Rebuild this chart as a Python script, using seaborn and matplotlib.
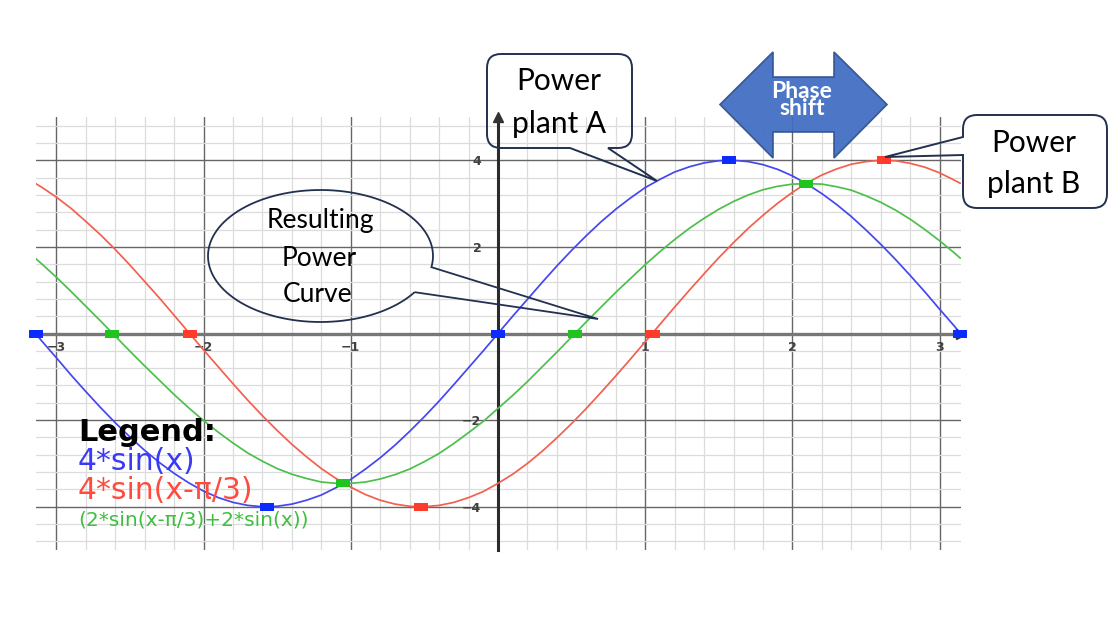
import numpy as np
import matplotlib
matplotlib.use("Agg")
import matplotlib.pyplot as plt
from matplotlib.path import Path
from matplotlib.patches import PathPatch, Polygon
from matplotlib.transforms import Affine2D
from matplotlib.ticker import MultipleLocator, FixedLocator
import seaborn as sns

# values (x in radians, step 0.1)
x_vals = [-3.14, -3.1, -3.0, -2.9, -2.8, -2.7, -2.6, -2.5, -2.4, -2.3, -2.2,
          -2.1, -2.0, -1.9, -1.8, -1.7, -1.6, -1.5, -1.4, -1.3, -1.2, -1.1,
          -1.0, -0.9, -0.8, -0.7, -0.6, -0.5, -0.4, -0.3, -0.2, -0.1, 0.0,
          0.1, 0.2, 0.3, 0.4, 0.5, 0.6, 0.7, 0.8, 0.9, 1.0, 1.1, 1.2,
          1.3, 1.4, 1.5, 1.6, 1.7, 1.8, 1.9, 2.0, 2.1, 2.2, 2.3, 2.4,
          2.5, 2.6, 2.7, 2.8, 2.9, 3.0, 3.1, 3.14]
plant_a = [0.0, -0.17, -0.56, -0.96, -1.34, -1.71, -2.06, -2.39, -2.70, -2.98, -3.23,
           -3.45, -3.64, -3.79, -3.90, -3.97, -4.00, -3.99, -3.94, -3.85, -3.73, -3.56,
           -3.37, -3.13, -2.87, -2.58, -2.26, -1.92, -1.56, -1.18, -0.79, -0.40, 0.0,
           0.40, 0.79, 1.18, 1.56, 1.92, 2.26, 2.58, 2.87, 3.13, 3.37, 3.56, 3.73,
           3.85, 3.94, 3.99, 4.00, 3.97, 3.90, 3.79, 3.64, 3.45, 3.23, 2.98, 2.70,
           2.39, 2.06, 1.71, 1.34, 0.96, 0.56, 0.17, 0.0]
plant_b = [3.46, 3.38, 3.15, 2.89, 2.59, 2.28, 1.94, 1.58, 1.20, 0.82, 0.42,
           0.02, -0.38, -0.77, -1.16, -1.54, -1.90, -2.24, -2.56, -2.85, -3.12, -3.35,
           -3.55, -3.72, -3.85, -3.94, -3.99, -4.00, -3.97, -3.90, -3.79, -3.65, -3.46,
           -3.25, -3.00, -2.72, -2.41, -2.08, -1.73, -1.36, -0.98, -0.59, -0.19, 0.21, 0.61,
           1.00, 1.38, 1.75, 2.10, 2.43, 2.73, 3.01, 3.26, 3.48, 3.66, 3.80, 3.91,
           3.97, 4.00, 3.99, 3.93, 3.84, 3.71, 3.54, 3.47]
resulting = [1.73, 1.61, 1.30, 0.97, 0.63, 0.29, -0.06, -0.41, -0.75, -1.08, -1.41,
             -1.72, -2.01, -2.28, -2.53, -2.76, -2.95, -3.12, -3.25, -3.35, -3.43, -3.46,
             -3.46, -3.43, -3.36, -3.26, -3.13, -2.96, -2.77, -2.54, -2.29, -2.03, -1.73,
             -1.43, -1.11, -0.77, -0.43, -0.08, 0.27, 0.61, 0.95, 1.27, 1.59, 1.89, 2.17,
             2.43, 2.66, 2.87, 3.05, 3.20, 3.32, 3.40, 3.45, 3.46, 3.45, 3.39, 3.31,
             3.18, 3.03, 2.85, 2.64, 2.40, 2.14, 1.86, 1.74]

# highlighted points
a_pts_x = [-3.14, -1.57, 0.0, 1.57, 3.14]
a_pts_y = [0.0, -4.0, 0.0, 4.0, 0.0]
b_pts_x = [-2.09, -0.52, 1.05, 2.62]
b_pts_y = [0.0, -4.0, 0.0, 4.0]
r_pts_x = [-2.62, -1.05, 0.52, 2.09]
r_pts_y = [0.0, -3.46, 0.0, 3.46]

x_ticks = [-3, -2, -1, 1, 2, 3]
y_ticks = [-4, -2, 2, 4]
legend_lines = ["4*sin(x)", "4*sin(x-π/3)", "(2*sin(x-π/3)+2*sin(x))"]

blue, red, green = "#4646f0", "#f2604f", "#4cbf4c"
navy = "#22314f"

sns.set_style("white")
plt.rcParams["font.family"] = ["DejaVu Sans"]

W, H, DPI = 1118, 620, 100
fig = plt.figure(figsize=(W / DPI, H / DPI), dpi=DPI)
ax = fig.add_axes([35.5 / W, 70 / H, 925 / W, 433 / H])
# pixel coords, origin top-left
pix = Affine2D().scale(1 / DPI, -1 / DPI).translate(0, H / DPI) + fig.dpi_scale_trans

ax.set_xlim(-3.1416, 3.1416)
ax.set_ylim(-5, 5)
ax.set_axisbelow(True)
ax.xaxis.set_major_locator(FixedLocator(x_ticks))
ax.yaxis.set_major_locator(FixedLocator(y_ticks))
ax.xaxis.set_minor_locator(MultipleLocator(0.2))
ax.yaxis.set_minor_locator(MultipleLocator(0.4))
ax.grid(which="minor", color="#dcdcdc", lw=0.9)
ax.grid(which="major", color="#666666", lw=1.0)

for s in ["top", "right"]:
    ax.spines[s].set_visible(False)
ax.spines["left"].set_position(("data", 0))
ax.spines["bottom"].set_position(("data", 0))
ax.spines["left"].set_color("#2b2b2b")
ax.spines["left"].set_linewidth(2.2)
ax.spines["bottom"].set_color("#777777")
ax.spines["bottom"].set_linewidth(2.4)

ax.tick_params(axis="x", which="major", direction="inout", length=8, width=1.2,
               color="#333333", labelsize=9, labelcolor="#404040", pad=1.5)
ax.tick_params(axis="x", which="minor", direction="inout", length=4, width=1.8,
               color="#333333")
ax.tick_params(axis="y", which="major", direction="inout", length=12, width=1.2,
               color="#333333", labelsize=9, labelcolor="#404040", pad=6)
ax.tick_params(axis="y", which="minor", direction="inout", length=6, width=1.0,
               color="#333333")
for lbl in ax.get_xticklabels() + ax.get_yticklabels():
    lbl.set_fontweight("bold")
ax.set_xlabel("")
ax.set_ylabel("")

# axis arrow heads
ax.plot([0], [5], marker="^", ms=7, color="#333333", clip_on=False, zorder=6)
ax.plot([3.1416], [0], marker=">", ms=7, color="#333333", clip_on=False, zorder=4)

# curves
sns.lineplot(x=x_vals, y=plant_a, color=blue, lw=1.25, ax=ax, zorder=3, estimator=None, sort=False)
sns.lineplot(x=x_vals, y=plant_b, color=red, lw=1.25, ax=ax, zorder=3, estimator=None, sort=False)
sns.lineplot(x=x_vals, y=resulting, color=green, lw=1.25, ax=ax, zorder=3, estimator=None, sort=False)

rect = Path([(-1, -0.5), (1, -0.5), (1, 0.5), (-1, 0.5), (-1, -0.5)])
sns.scatterplot(x=a_pts_x, y=a_pts_y, marker=rect, s=110, color="#0b2bff", linewidth=0, ax=ax, zorder=5, clip_on=False)
sns.scatterplot(x=b_pts_x, y=b_pts_y, marker=rect, s=110, color="#ff3b2b", linewidth=0, ax=ax, zorder=5, clip_on=False)
sns.scatterplot(x=r_pts_x, y=r_pts_y, marker=rect, s=110, color="#1fc41f", linewidth=0, ax=ax, zorder=5, clip_on=False)


def callout_box(x0, y0, x1, y1, r, bottom=None, left=None):
    v = [(x0 + r, y0), (x1 - r, y0), (x1, y0), (x1, y0 + r), (x1, y1 - r), (x1, y1), (x1 - r, y1)]
    c = [Path.MOVETO, Path.LINETO, Path.CURVE3, Path.CURVE3, Path.LINETO, Path.CURVE3, Path.CURVE3]
    if bottom:
        v += bottom
        c += [Path.LINETO] * len(bottom)
    v += [(x0 + r, y1), (x0, y1), (x0, y1 - r)]
    c += [Path.LINETO, Path.CURVE3, Path.CURVE3]
    if left:
        v += left
        c += [Path.LINETO] * len(left)
    v += [(x0, y0 + r), (x0, y0), (x0 + r, y0)]
    c += [Path.LINETO, Path.CURVE3, Path.CURVE3]
    return Path(v, c)


box_a = callout_box(487, 54, 632, 148, 14, bottom=[(608, 148), (657, 181), (570, 148)])
box_b = callout_box(963, 115, 1107, 208, 14, left=[(963, 155), (885, 157), (963, 137)])
for p in [box_a, box_b]:
    fig.add_artist(PathPatch(p, transform=pix, fc="none", ec=navy, lw=1.4))

t = np.linspace(0.58, 0.17 + 2 * np.pi, 120)
ell = list(zip(320.5 + 112.5 * np.cos(t), 256 + 66 * np.sin(t))) + [(598, 319)]
ell.append(ell[0])
fig.add_artist(PathPatch(Path(ell), transform=pix, fc="none", ec=navy, lw=1.3))

arrow = [(720, 104.5), (773, 52), (773, 77), (834, 77), (834, 52), (887, 104.5),
         (834, 158), (834, 132), (773, 132), (773, 158)]
fig.add_artist(Polygon(arrow, closed=True, transform=pix, fc="#3f6dc2", ec="#2f528f", lw=1.2, alpha=0.93))

callout_font = dict(transform=pix, ha="center", va="baseline", color="black", family=["Lato", "DejaVu Sans"])
fig.text(559, 90, "Power", fontsize=21.5, **callout_font)
fig.text(559, 133, "plant A", fontsize=21.5, **callout_font)
fig.text(1034, 152, "Power", fontsize=21.5, **callout_font)
fig.text(1034, 193, "plant B", fontsize=21.5, **callout_font)
fig.text(320, 228, "Resulting", fontsize=19, **callout_font)
fig.text(319, 266, "Power", fontsize=19, **callout_font)
fig.text(318, 302, "Curve", fontsize=19, **callout_font)
fig.text(802, 100, "Phase\nshift", transform=pix, ha="center", va="center", color="white",
         fontsize=16.5, fontweight="bold", linespacing=0.78, family=["Lato", "DejaVu Sans"])

# legend block
fig.text(78, 441, "Legend:", transform=pix, fontsize=22, fontweight="bold", color="black", va="baseline")
fig.text(78, 470, legend_lines[0], transform=pix, fontsize=21.5, color="#3a3af5", va="baseline")
fig.text(78, 499, legend_lines[1], transform=pix, fontsize=21.5, color="#ff4b3e", va="baseline")
fig.text(78, 525, legend_lines[2], transform=pix, fontsize=14.5, color="#3fbf3f", va="baseline")

fig.savefig("out.png", dpi=DPI)
